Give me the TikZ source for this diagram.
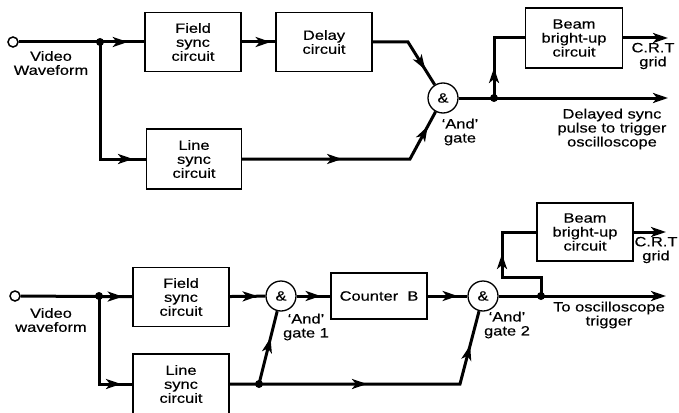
\documentclass[tikz,border=0pt]{standalone}
\usepackage{fontspec}
\setmainfont{Liberation Sans}[FakeStretch=1.22,FakeBold=0.35]
\usetikzlibrary{arrows.meta,decorations.markings}
\tikzset{
  conn/.style={line width=3pt},
  blk/.style={draw, line width=1.3pt, minimum width=96pt, minimum height=59pt, align=center, inner sep=0pt},
  gate/.style={draw, circle, line width=1.3pt, minimum size=30pt, inner sep=0pt, fill=white},
  term/.style={draw, circle, line width=1.5pt, minimum size=10pt, inner sep=0pt, fill=white},
  jdot/.style={circle, fill, minimum size=8pt, inner sep=0pt},
  lbl/.style={align=center, inner sep=0pt},
  midarr/.style={postaction={decorate, decoration={markings, mark=at position #1 with {\arrow{Stealth[length=15pt,width=10pt,inset=4pt]}}}}},
  endarr/.style={-{Stealth[length=15pt,width=10pt,inset=4pt]}},
}
\begin{document}
\begin{tikzpicture}[x=1pt,y=-1pt,font=\fontsize{13.5}{14}\selectfont]
\useasboundingbox (0,0) rectangle (679,412);
% ---------- top diagram ----------
\node[term] (in1) at (13,42) {};
\node[blk] (field1) at (193,42) {Field\\sync\\circuit};
\node[blk] (delay1) at (324,42) {Delay\\circuit};
\node[blk, minimum width=95pt, minimum height=60pt] (line1) at (194,159) {Line\\sync\\circuit};
\node[gate] (g1) at (443,98) {\&};
\node[blk, minimum width=97pt, minimum height=60pt] (beam1) at (574,38) {Beam\\bright-up\\circuit};
\coordinate (out1) at (668,98);
\coordinate (crt1) at (668,38);
\coordinate (b1) at (408,42);
\coordinate (b2) at (410,159);
\coordinate (j1c) at (100,42);
\coordinate (j2c) at (494,98);

\draw[conn, midarr=109pt] (in1) -- (field1);
\draw[conn, midarr=150pt] (j1c) |- (line1.west);
\draw[conn, midarr=29pt] (field1) -- (delay1);
\draw[conn, midarr=68pt] (delay1.east) -- (b1) -- (g1);
\draw[conn, midarr=100pt, midarr=205pt] (line1.east) -- (b2) -- (g1);
\draw[conn, endarr] (g1) -- (out1);
\draw[conn, midarr=30pt] (j2c) |- (beam1.west);
\draw[conn, endarr] (beam1) -- (crt1);
\node[jdot] (j1) at (j1c) {};
\node[jdot] (j2) at (j2c) {};

\node[lbl] (vid1) at (51,63) {Video\\Waveform};
\node[lbl] (and1) at (460,132) {`And'\\gate};
\node[lbl] (crtl1) at (653,56) {C.R.T\\grid};
\node[lbl] (del) at (612,129) {Delayed sync\\pulse to trigger\\oscilloscope};

% ---------- bottom diagram ----------
\node[term] (in2) at (15,296) {};
\node[blk] (field2) at (181,297) {Field\\sync\\circuit};
\node[blk, minimum height=60pt] (line2) at (181,384) {Line\\sync\\circuit};
\node[gate] (g2) at (281,296) {\&};
\node[blk, minimum height=46pt] (counter) at (379,296) {Counter\ \ B};
\node[gate] (g3) at (483,296) {\&};
\node[blk, minimum height=58pt] (beam2) at (585,232) {Beam\\bright-up\\circuit};
\coordinate (j3c) at (99,296);
\coordinate (j4c) at (259,384);
\coordinate (j5c) at (541,296);
\coordinate (out2) at (666,296);
\coordinate (crt2) at (666,232);
\coordinate (b3) at (460,384);
\coordinate (b4) at (541,277);
\coordinate (b5) at (502,277);

\draw[conn, midarr=102pt] (in2) -- (field2);
\draw[conn, midarr=110pt] (j3c) |- (line2.west);
\draw[conn, midarr=28pt] (field2) -- (g2);
\draw[conn, midarr=24pt] (g2) -- (counter);
\draw[conn, midarr=30pt] (counter) -- (g3);
\draw[conn, midarr=77pt] (line2.east) -- (j4c) -- (g2);
\draw[conn, midarr=108pt, midarr=241pt] (j4c) -- (b3) -- (g3);
\draw[conn, endarr] (g3) -- (out2);
\draw[conn, midarr=81pt] (j5c) -- (b4) -- (b5) |- (beam2.west);
\draw[conn, endarr] (beam2) -- (crt2);
\node[jdot] (j3) at (j3c) {};
\node[jdot] (j4) at (j4c) {};
\node[jdot] (j5) at (j5c) {};

\node[lbl] (vid2) at (51,320) {Video\\waveform};
\node[lbl] (and2) at (306,327) {`And'\\gate 1};
\node[lbl] (and3) at (507,325) {`And'\\gate 2};
\node[lbl] (crtl2) at (656,250) {C.R.T\\grid};
\node[lbl] (osc) at (609,315) {To oscilloscope\\trigger};
\end{tikzpicture}
\end{document}
